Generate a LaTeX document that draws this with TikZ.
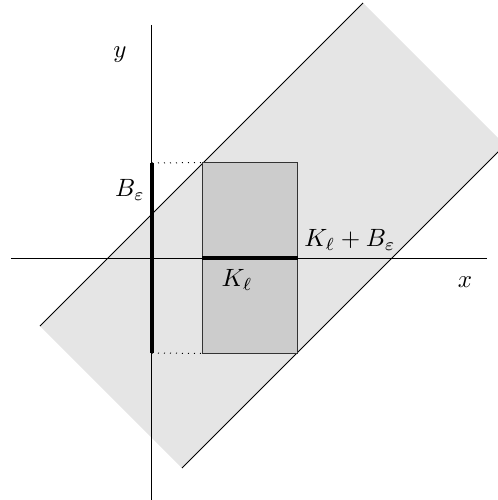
\documentclass[tikz,border=0pt]{standalone}
\usetikzlibrary{positioning}

\begin{document}
\begin{tikzpicture}[x=0.4pt, y=0.4pt,
        band/.style={fill=black!10},
        kset/.style={draw=black!80, fill=black!20},
        seg/.style={line width=1.6pt},
        lbl/.style={inner sep=1pt}
      ]
        \useasboundingbox (-152,-242) rectangle (346,258);
        \clip (-152,-242) rectangle (346,258);
        % the strip K + B
        \coordinate (a) at (-112,-68); \coordinate (b) at (211,255);
        \coordinate (c) at (353,113); \coordinate (d) at (30,-210);
        \fill[band] (a)--(b)--(c)--(d)--cycle;
        \draw (a)--(b); \draw (d)--(c);
        % the set K
        \node[kset, minimum width=37.6pt, minimum height=76pt, inner sep=0pt] (kbox) at (98,0) {};
        % axes
        \coordinate (xl) at (-141,0); \coordinate (xr) at (335,0);
        \coordinate (yt) at (0,233); \coordinate (yb) at (0,-250);
        \draw (xl)--(xr); \draw (yt)--(yb);
        \node (ylab) at (-32,203) {$y$};
        \node (xlab) at (313,-24) {$x$};
        % projections
        \coordinate (pl) at (-44,0); \coordinate (pr) at (240,0);
        \draw[dashed] (pl)--(kbox.west); \draw[dashed] (kbox.east)--(pr);
        \draw[seg] (kbox.west)--(kbox.east);
        \coordinate (bt) at (0,95); \coordinate (bb) at (0,-95);
        \draw[dotted] (bt)--(kbox.north west); \draw[dotted] (bb)--(kbox.south west);
        \draw[seg] (bt)--(bb);
        \node[lbl] (blab) at (-22,68) {$B_\varepsilon$};
        \node[lbl] (klab) at (85,-22) {$K_\ell$};
        \node[lbl] (kblab) at (198,18) {$K_\ell+B_\varepsilon$};
      \end{tikzpicture}
\end{document}
